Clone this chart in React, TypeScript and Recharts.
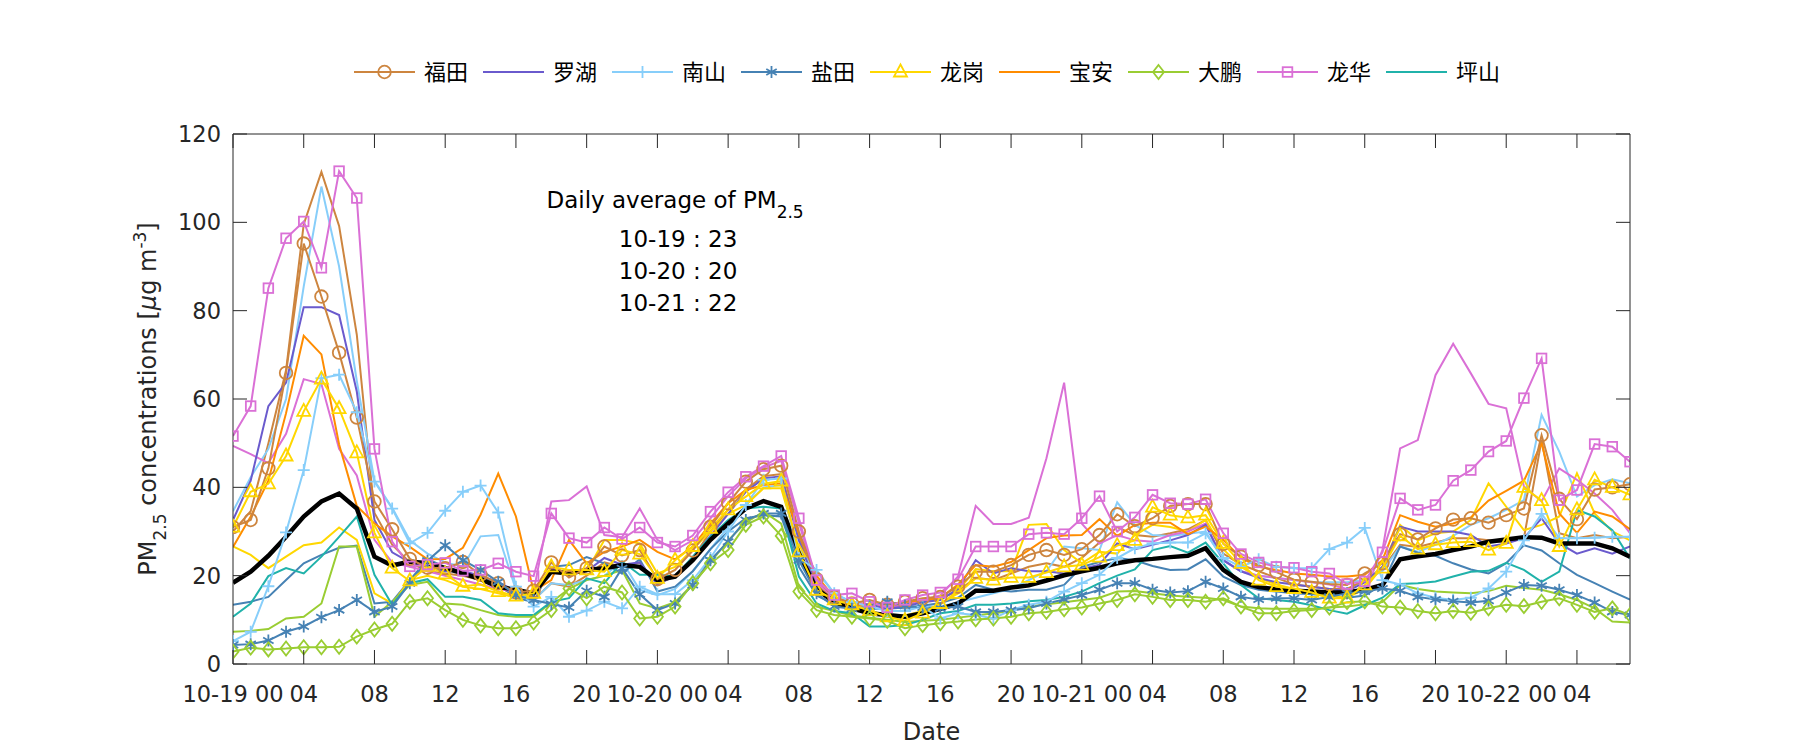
import React from "react";
import { LineChart, Line, XAxis, YAxis, ReferenceDot } from "recharts";

// hour index, 0 = 10-19 00:00
const hours = Array.from({ length: 80 }, (_, i) => i);
const xTicks = [0, 4, 8, 12, 16, 20, 24, 28, 32, 36, 40, 44, 48, 52, 56, 60, 64, 68, 72, 76];
const xTickLabels = [
  "10-19 00", "04", "08", "12", "16", "20",
  "10-20 00", "04", "08", "12", "16", "20",
  "10-21 00", "04", "08", "12", "16", "20",
  "10-22 00", "04",
];
const yTicks = [0, 20, 40, 60, 80, 100, 120];

const futian = [
  31, 32.6, 44.3, 65.9, 95.2, 83.2, 70.5, 55.8, 36.8, 30.5,
  23.8, 21.8, 21.7, 23.1, 20.2, 18.3, 16.2, 16.6, 23, 19.6,
  21.7, 26.6, 24.6, 25.8, 19.2, 21.3, 25.7, 31.1, 36.4, 41.3,
  44.1, 44.9, 30, 19.2, 15.2, 13.7, 14.5, 13.4, 14.1, 14.9,
  15.2, 17.5, 20.9, 20.9, 22.4, 24.7, 25.8, 24.7, 26, 29.2,
  33.9, 31.2, 33, 35.8, 36.2, 36.2, 27.2, 24.3, 22.4, 20.8,
  19.1, 18.6, 18.1, 17.9, 20.5, 22.8, 29.4, 28.2, 30.7, 32.7,
  33, 32, 33.7, 35.2, 51.8, 37.4, 32.8, 39.5, 40, 40.7,
];
const futian2 = [
  30, 34.6, 49.9, 66.5, 99.6, 111.4, 99.2, 74.6, 34.2, 27,
  23, 21, 20.5, 20, 19, 17.5, 15.5, 14.5, 18.3, 17.5,
  20, 23, 22, 23, 18, 20, 24, 30, 35, 39.5,
  42.5, 43, 29, 18, 14.5, 13, 13.5, 12.8, 13.5, 14.2,
  14.8, 16.5, 19.5, 19, 20.5, 22, 22.8, 22, 24, 27.5,
  31, 29.2, 28.8, 29.6, 30.5, 32.6, 25, 22.5, 21, 19.5,
  18, 17.5, 17, 17, 19, 21.5, 27, 26.5, 27.5, 28.5,
  28.5, 28, 27.5, 28.5, 50.7, 29.6, 28.5, 29.2, 28.5, 28.8,
];
const luohu = [
  32.6, 41.5, 58.4, 63.7, 80.8, 80.8, 79, 61.7, 32.6, 25.3,
  23, 22, 21, 21, 20, 18.5, 16.5, 16, 21.5, 20.5,
  21, 24, 22.5, 23, 18, 20, 24, 29, 34, 39,
  42, 42.5, 28, 17.5, 14, 13, 13.5, 12.5, 13, 14,
  14.5, 17, 23.5, 20.5, 21.7, 21, 21, 20.5, 21.5, 22.5,
  27.3, 26, 27, 28, 29.2, 31.5, 23.5, 21, 19.5, 18.5,
  18, 17.5, 17, 16.5, 18.5, 22, 31.1, 30, 30, 30,
  29.2, 26.6, 27.3, 28.5, 33, 27.3, 25, 26.2, 25, 26.6,
];
const nanshan = [
  5.2, 7.3, 17.6, 29.8, 43.9, 64.7, 65.5, 57, 41.3, 35.2,
  27.3, 29.7, 34.7, 39, 40.4, 34.3, 17.5, 13, 15.2, 10.7,
  12.1, 14.1, 12.6, 17.5, 15.8, 15.8, 19, 24, 30, 36,
  41.7, 42, 24, 21.3, 16, 14, 13, 12, 12, 13,
  10.3, 11.5, 11.1, 10.3, 12.2, 13.4, 14.1, 16.4, 18.3, 20.2,
  24, 26.2, 27.3, 27.5, 27.5, 29.6, 24, 22, 23.7, 22,
  21.7, 21.7, 26, 27.5, 30.8, 19, 18, 16, 15, 14.5,
  15, 17.1, 20.9, 28, 34, 28.5, 28.5, 28.6, 28.8, 28.8,
];
const nanshan2 = [
  34.6, 42.3, 48.7, 60, 85.5, 108.1, 90, 64.1, 41.5, 35.4,
  28, 25, 23, 22, 28.9, 29.2, 16.8, 14.5, 18.3, 17.9,
  19, 20, 23.2, 16.8, 15.6, 17, 21, 26, 31, 36,
  40, 40.5, 26, 21, 16, 14, 13.5, 13, 12.5, 13,
  13, 14, 15, 16, 17, 19, 21, 26.6, 26.2, 25.8,
  36.6, 31.5, 29.2, 29, 29.5, 30, 23.5, 21, 20, 19.5,
  19, 18.5, 18.5, 18.5, 19, 21, 26.6, 25.4, 27, 29,
  31.5, 33, 34.9, 37.1, 56.4, 48.1, 37.9, 40.5, 41.8, 40.9,
];
const yantian = [
  4.3, 4.5, 5.3, 7.3, 8.5, 10.6, 12.2, 14.5, 11.8, 13,
  18.3, 23.4, 26.9, 23.5, 21.3, 18.6, 15.6, 14.5, 13.6, 12.8,
  16.6, 15.2, 21.7, 15.8, 12.2, 13.7, 17.9, 23.5, 27.7, 32.6,
  34.1, 34.1, 23.5, 16, 13, 12.5, 13, 14.1, 13.2, 12.8,
  12.6, 13, 11.8, 11.8, 12.2, 12.6, 13.7, 14.6, 15.6, 16.8,
  18.3, 18.3, 16.8, 16.2, 16.5, 18.6, 17.1, 15.2, 14.6, 14.9,
  14.9, 14.5, 15.2, 16, 16.4, 17.1, 16.6, 15.2, 14.6, 14.2,
  13.9, 14.3, 16.2, 17.9, 17.7, 16.8, 15.6, 13.9, 11.8, 11.1,
];
const yantian2 = [
  13.4, 14.1, 15.2, 19, 22.8, 24.7, 26.3, 26.8, 13.7, 14.1,
  19, 23.7, 22, 20.9, 20, 18, 15, 14, 22, 22.4,
  24.2, 22.8, 20.5, 23.7, 16.4, 17.5, 21, 26, 30, 33,
  33.7, 33.4, 22, 15.5, 13.5, 12.5, 12.5, 12.5, 12.8, 13.2,
  13.8, 15, 17.9, 16.8, 16.4, 16.8, 16.8, 17.9, 22, 23.1,
  24, 23.5, 22.2, 21.3, 21.4, 23.7, 19.8, 17.9, 16.8, 16.4,
  16, 15.8, 15.5, 15, 15.5, 18, 26.6, 25.2, 24.5, 22.8,
  21.4, 20.5, 22.8, 26.9, 25.7, 22.8, 20.2, 18.3, 16.4, 14.6,
];
const longgang = [
  31, 39, 40.8, 47.1, 57.2, 64.5, 57.8, 47.8, 29.7, 21.7,
  18.8, 22.1, 20.4, 17.6, 18, 16.4, 15.4, 16, 22, 21.3,
  21.3, 20.9, 25.8, 24.9, 19.4, 23.5, 26.6, 30.7, 34.9, 37.9,
  40.8, 41.4, 25.4, 16.7, 14.5, 13.4, 12.1, 10.7, 9.8, 11.5,
  13.7, 16, 19.4, 19, 19.6, 19.6, 20.7, 22, 22.4, 24.2,
  26.8, 28, 35.5, 33.7, 33.1, 33.7, 27.3, 22.8, 19, 17.5,
  17.1, 16.2, 14.9, 14.9, 17.9, 21.7, 29, 26, 27, 27.5,
  27.7, 25.8, 27.3, 40, 37, 26.6, 34.9, 41.7, 40, 38.3,
];
const longgang2 = [
  26.6, 24.7, 21.7, 24.3, 26.9, 27.5, 30.9, 28.1, 16, 13.7,
  19, 20, 19, 17.5, 17, 16, 15, 15.5, 21, 21,
  21, 28.1, 28.1, 27.3, 20.5, 22, 26, 30, 34, 36,
  39.8, 39.8, 26, 17, 14, 12.5, 12, 11, 11, 12,
  13.5, 16.5, 21.5, 21, 21, 31.5, 31.7, 25.8, 22.8, 25.4,
  25, 29.2, 31.5, 31, 30, 32.6, 26, 22, 19.5, 18,
  17, 16.5, 15.5, 15, 17, 22, 31.5, 28, 29.6, 30,
  32.6, 40.9, 35.6, 30.3, 31.5, 33.4, 43.2, 34.1, 30, 28,
];
const baoan = [
  26.5, 33.4, 41.5, 56.8, 74.3, 70.1, 49.7, 35.8, 31.8, 28.9,
  26.5, 23.7, 23.8, 26.3, 33.8, 43.1, 33.4, 16.5, 19, 28.1,
  22.8, 25.4, 26.6, 28.1, 25.4, 23.7, 26.6, 31.8, 36.4, 39.4,
  40.5, 40.9, 29.6, 20, 15, 13, 13.5, 13.5, 14, 14.5,
  15, 18, 22.4, 22, 23.1, 25.8, 28.5, 29.1, 29.2, 32.8,
  29, 31.5, 32, 32, 29.4, 31.1, 28.1, 24, 22, 21.3,
  20.5, 20.2, 19.8, 19.8, 20.2, 23.5, 33.7, 32.2, 31.1, 31.8,
  33.2, 37, 39.2, 41.5, 50, 34.1, 29.7, 34.5, 33.4, 30.5,
];
const dapeng = [
  2.8, 3.7, 3.3, 3.5, 3.8, 3.8, 3.9, 6.2, 7.8, 9.1,
  14.1, 14.9, 12.2, 10, 8.7, 8.1, 8.1, 9.4, 12.2, 17.1,
  14.9, 17.5, 16.2, 10.3, 10.7, 13, 18.3, 22.8, 25.8, 31.5,
  33.4, 29, 16.4, 12.2, 11.1, 10.7, 10.3, 9.8, 8.1, 8.8,
  9.2, 9.6, 10.1, 10.3, 10.7, 11.5, 11.8, 12.4, 12.8, 13.7,
  14.5, 15.8, 15.2, 14.5, 14.5, 14.1, 14.9, 13, 11.5, 11.5,
  12, 12.2, 12.8, 14, 14.2, 13, 12.8, 12, 11.5, 12,
  11.6, 12.6, 13.4, 13.1, 14.1, 14.9, 13.4, 11.8, 12.6, 11.1,
];
const dapeng2 = [
  7.3, 7.5, 7.9, 10.3, 10.7, 13.7, 26.6, 26.6, 10.7, 14.1,
  17.9, 18.6, 13.7, 13.4, 12.2, 11.1, 10.7, 10.7, 14, 17,
  19, 20, 21.3, 13.7, 12.6, 14, 18, 23, 28, 32,
  34.5, 31.8, 17.5, 13, 12, 11, 10.5, 10, 9.5, 9.8,
  10, 10.5, 11, 11.5, 12, 13, 13.5, 14, 14.5, 15,
  16.4, 16.5, 16, 15.5, 15.2, 15, 14.5, 13, 12.6, 12.5,
  12.5, 12.5, 12.8, 13, 13.5, 14, 17.9, 17, 16.4, 16.2,
  16, 16.5, 17.7, 17.2, 16.8, 15.8, 14.5, 12.6, 9.6, 9.4,
];
const longhua = [
  51.6, 58.4, 85.1, 96.4, 100.2, 89.7, 111.6, 105.5, 48.7, 27.7,
  22.1, 22.5, 22.9, 21.1, 21.3, 22.8, 20.9, 19.9, 34.1, 28.5,
  27.5, 30.9, 28.3, 30.9, 27.5, 26.6, 29.1, 34.5, 38.9, 42.4,
  44.8, 47.1, 33, 19, 15.6, 16, 14.1, 12.8, 14.5, 15.6,
  16.2, 19.2, 26.6, 26.6, 26.6, 29.4, 29.7, 29.4, 33, 38,
  30, 33.2, 38.3, 36.4, 36.2, 37.3, 29.6, 24.9, 23, 22,
  21.8, 20.9, 20.5, 18.1, 18.7, 25.3, 37.5, 34.9, 36, 41.5,
  43.9, 48.1, 50.5, 60.2, 69.2, 37.1, 39.4, 49.8, 49.2, 45.8,
];
const longhua2 = [
  49.4, 47.5, 45.5, 52.1, 64.5, 63.4, 48.7, 42.7, 28.1, 23,
  22, 21, 20, 19, 18, 17, 16.4, 16.5, 36.8, 37.1,
  40.2, 29.2, 28.7, 35.2, 28.1, 25.8, 28, 33, 38, 42,
  44.5, 46, 32, 18.5, 15, 14, 13.5, 12.5, 13.5, 14.5,
  15.5, 19.8, 35.8, 31.7, 31.7, 33.1, 46.6, 63.7, 31.8, 27.3,
  29.2, 28, 27.7, 29.2, 30, 31.8, 23.5, 21, 20, 19.5,
  19, 18.5, 18, 17, 16.4, 25.8, 48.8, 50.7, 65.4, 72.5,
  65.8, 58.9, 57.9, 40.2, 36.8, 44.3, 41.7, 38.6, 34.9, 29.6,
];
const pingshan = [
  10.7, 13.7, 19.9, 21.7, 20.5, 24.3, 28.8, 33.4, 20.2, 13.4,
  18.3, 19.2, 15.2, 15.2, 14.5, 11.5, 11.1, 11.1, 14.1, 14.9,
  19.4, 18.3, 23.2, 20.2, 20.2, 19.8, 24.3, 28.8, 32.6, 35.2,
  35.6, 35.2, 19.8, 13.7, 12, 11.5, 8.5, 8.5, 8.8, 10,
  11.5, 12, 13.4, 13.4, 13.7, 14.2, 14.5, 15.2, 16.4, 18.3,
  20, 21.4, 25.8, 26.7, 25.2, 27.5, 22.8, 17.9, 14.9, 14.5,
  14.1, 13.3, 12.2, 11.4, 13.3, 15, 18.1, 18.3, 18.7, 19.8,
  20.9, 21.1, 22.9, 21.3, 18.6, 20.9, 34.9, 33.4, 30.3, 23.9,
];
const average = [
  18.4, 20.9, 24.5, 28.8, 33.4, 36.8, 38.6, 35.2, 24.3, 22.3,
  23.2, 22.8, 21.7, 20.5, 19.2, 17.5, 16.8, 16, 20.9, 20.5,
  21.3, 21.7, 22.4, 22, 19, 19.8, 23.5, 28.1, 31.8, 35.2,
  36.9, 35.6, 25, 17, 14, 12.6, 11.5, 11.1, 10.7, 11.5,
  12.5, 13.7, 16.6, 16.6, 17.3, 17.8, 18.9, 20.1, 21, 21.8,
  22.8, 23.5, 23.8, 24.2, 24.5, 26.2, 21.3, 18.6, 17.4, 16.9,
  16.6, 16.4, 16.2, 16.2, 16.8, 17.9, 23.7, 24.4, 24.9, 25.8,
  26.6, 27.7, 28.2, 28.7, 28.6, 27.3, 27.3, 27.3, 26.2, 24.3,
];

const dailyAvg = [
  { day: "10-19", value: 23 },
  { day: "10-20", value: 20 },
  { day: "10-21", value: 22 },
];

// legend entries (one per district)
const districts = [
  { key: "futian", name: "福田", color: "#CD853F", marker: "circle" },
  { key: "luohu", name: "罗湖", color: "#6A5ACD", marker: "" },
  { key: "nanshan", name: "南山", color: "#87CEFA", marker: "plus" },
  { key: "yantian", name: "盐田", color: "#4682B4", marker: "star" },
  { key: "longgang", name: "龙岗", color: "#FFD700", marker: "triangle" },
  { key: "baoan", name: "宝安", color: "#FF8C00", marker: "" },
  { key: "dapeng", name: "大鹏", color: "#9ACD32", marker: "diamond" },
  { key: "longhua", name: "龙华", color: "#DA70D6", marker: "square" },
  { key: "pingshan", name: "坪山", color: "#20B2AA", marker: "" },
];
// second station lines, same colour, no marker, no legend entry
const extras = [
  { key: "futian2", color: "#CD853F" },
  { key: "nanshan2", color: "#87CEFA" },
  { key: "yantian2", color: "#4682B4" },
  { key: "longgang2", color: "#FFD700" },
  { key: "dapeng2", color: "#9ACD32" },
  { key: "longhua2", color: "#DA70D6" },
];

const data = hours.map((h, i) => ({
  h,
  futian: futian[i], futian2: futian2[i], luohu: luohu[i],
  nanshan: nanshan[i], nanshan2: nanshan2[i],
  yantian: yantian[i], yantian2: yantian2[i],
  longgang: longgang[i], longgang2: longgang2[i],
  baoan: baoan[i], dapeng: dapeng[i], dapeng2: dapeng2[i],
  longhua: longhua[i], longhua2: longhua2[i],
  pingshan: pingshan[i], average: average[i],
}));

const AXIS = "#262626";
const TICK = 14;
const FONT = "'DejaVu Sans', 'Noto Sans CJK SC', sans-serif";

function Marker({ shape, cx, cy, color }: any) {
  const common = { fill: "none", stroke: color, strokeWidth: 1.8 };
  switch (shape) {
    case "circle":
      return <circle cx={cx} cy={cy} r={6.3} {...common} />;
    case "square":
      return <rect x={cx - 4.8} y={cy - 4.8} width={9.6} height={9.6} {...common} />;
    case "triangle":
      return <path d={`M${cx},${cy - 7.5}L${cx + 6.5},${cy + 4.5}L${cx - 6.5},${cy + 4.5}Z`} {...common} />;
    case "diamond":
      return <path d={`M${cx},${cy - 7}L${cx + 5.5},${cy}L${cx},${cy + 7}L${cx - 5.5},${cy}Z`} {...common} />;
    case "plus":
      return <path d={`M${cx - 6},${cy}H${cx + 6}M${cx},${cy - 6}V${cy + 6}`} {...common} />;
    case "star":
      return (
        <path
          d={`M${cx},${cy - 6}V${cy + 6}M${cx - 5.2},${cy - 3}L${cx + 5.2},${cy + 3}M${cx - 5.2},${cy + 3}L${cx + 5.2},${cy - 3}`}
          {...common}
        />
      );
    default:
      return null;
  }
}

const BottomTick = ({ x, y, payload }: any) => {
  const i = xTicks.indexOf(payload.value);
  return (
    <g>
      <line x1={x} y1={y} x2={x} y2={y - TICK} stroke={AXIS} />
      <text x={x} y={y + 38} textAnchor="middle" fontSize={22.5} fill={AXIS}>
        {xTickLabels[i]}
      </text>
    </g>
  );
};
const TopTick = ({ x, y }: any) => <line x1={x} y1={y} x2={x} y2={y + TICK} stroke={AXIS} />;
const LeftTick = ({ x, y, payload }: any) => (
  <g>
    <line x1={x} y1={y} x2={x + TICK} y2={y} stroke={AXIS} />
    <text x={x - 12} y={y + 8} textAnchor="end" fontSize={22.5} fill={AXIS}>
      {payload.value}
    </text>
  </g>
);
const RightTick = ({ x, y }: any) => <line x1={x} y1={y} x2={x - TICK} y2={y} stroke={AXIS} />;

const YLabel = ({ viewBox }: any) => {
  const cx = viewBox.x + 3;
  const cy = viewBox.y + viewBox.height / 2;
  return (
    <text transform={`translate(${cx},${cy}) rotate(-90)`} textAnchor="middle" fontSize={24} fill={AXIS}>
      PM<tspan baselineShift="sub" fontSize={17}>2.5</tspan>
      <tspan> concentrations [</tspan>
      <tspan fontStyle="italic">μ</tspan>
      <tspan>g m</tspan>
      <tspan baselineShift="super" fontSize={17}>-3</tspan>
      <tspan>]</tspan>
    </text>
  );
};

const XLabel = ({ viewBox }: any) => (
  <text x={viewBox.x + viewBox.width / 2} y={viewBox.y + 76} textAnchor="middle" fontSize={24} fill={AXIS}>
    Date
  </text>
);

const Annotation = ({ viewBox }: any) => {
  const x = viewBox.x;
  const y = viewBox.y;
  return (
    <g fontSize={23} fill="#000" textAnchor="middle">
      <text x={x} y={y + 8}>
        Daily average of PM<tspan baselineShift="sub" fontSize={17}>2.5</tspan>
      </text>
      {dailyAvg.map((d, i) => (
        <text key={d.day} x={x + 3} y={y + 47 + i * 32}>
          {`${d.day} : ${d.value}`}
        </text>
      ))}
    </g>
  );
};

function LegendRow() {
  return (
    <svg width={1800} height={110} style={{ position: "absolute", left: 0, top: 0 }}>
      {districts.map((d, i) => {
        const x0 = 354 + i * 129;
        return (
          <g key={d.key}>
            <line x1={x0} x2={x0 + 61} y1={72} y2={72} stroke={d.color} strokeWidth={2} />
            <Marker shape={d.marker} cx={x0 + 30.5} cy={72} color={d.color} />
            <text x={x0 + 70} y={80} fontSize={22} fill="#000" fontFamily={FONT}>
              {d.name}
            </text>
          </g>
        );
      })}
    </svg>
  );
}

export default function App() {
  return (
    <div
      style={{
        position: "absolute",
        left: 0,
        top: 0,
        width: 1800,
        height: 750,
        background: "#fff",
        fontFamily: FONT,
      }}
    >
      <LineChart width={1800} height={750} data={data} margin={{ top: 124, right: 160, bottom: 46, left: 153 }}>
        <XAxis
          dataKey="h"
          type="number"
          domain={[0, 79]}
          ticks={xTicks}
          interval={0}
          height={40}
          tickSize={0}
          tickMargin={0}
          tickLine={false}
          axisLine={{ stroke: AXIS }}
          tick={<BottomTick />}
          allowDataOverflow
          label={<XLabel />}
        />
        <XAxis
          xAxisId="top"
          orientation="top"
          dataKey="h"
          type="number"
          domain={[0, 79]}
          ticks={xTicks}
          interval={0}
          height={10}
          tickSize={0}
          tickMargin={0}
          tickLine={false}
          axisLine={{ stroke: AXIS }}
          tick={<TopTick />}
          allowDataOverflow
        />
        <YAxis
          type="number"
          domain={[0, 120]}
          ticks={yTicks}
          interval={0}
          width={80}
          tickSize={0}
          tickMargin={0}
          tickLine={false}
          axisLine={{ stroke: AXIS }}
          tick={<LeftTick />}
          allowDataOverflow
          label={<YLabel />}
        />
        <YAxis
          yAxisId="right"
          orientation="right"
          type="number"
          domain={[0, 120]}
          ticks={yTicks}
          interval={0}
          width={10}
          tickSize={0}
          tickMargin={0}
          tickLine={false}
          axisLine={{ stroke: AXIS }}
          tick={<RightTick />}
          allowDataOverflow
        />
        {extras.map((s) => (
          <Line
            key={s.key}
            dataKey={s.key}
            stroke={s.color}
            strokeWidth={2}
            dot={false}
            activeDot={false}
            legendType="none"
            isAnimationActive={false}
          />
        ))}
        {districts
          .filter((d) => !d.marker)
          .map((d) => (
            <Line
              key={d.key}
              name={d.name}
              dataKey={d.key}
              stroke={d.color}
              strokeWidth={2}
              dot={false}
              activeDot={false}
              isAnimationActive={false}
            />
          ))}
        <Line
          dataKey="average"
          stroke="#000"
          strokeWidth={4.5}
          dot={false}
          activeDot={false}
          legendType="none"
          isAnimationActive={false}
        />
        {districts
          .filter((d) => d.marker)
          .map((d) => (
            <Line
              key={d.key}
              name={d.name}
              dataKey={d.key}
              stroke={d.color}
              strokeWidth={2}
              dot={(p: any) => <Marker key={`${d.key}-${p.index}`} shape={d.marker} cx={p.cx} cy={p.cy} color={d.color} />}
              activeDot={false}
              isAnimationActive={false}
            />
          ))}
        <ReferenceDot x={25} y={105} r={0} fill="none" stroke="none" label={<Annotation />} />
      </LineChart>
      <LegendRow />
    </div>
  );
}
